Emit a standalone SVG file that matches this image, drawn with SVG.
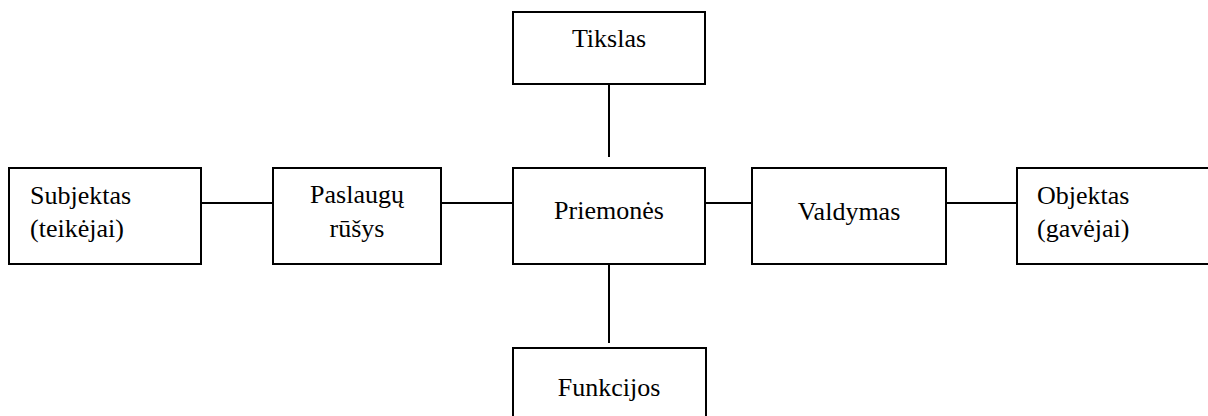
<svg xmlns="http://www.w3.org/2000/svg" width="1208" height="416" viewBox="0 0 1208 416">
<style>
.box{fill:#fff;stroke:#000;stroke-width:2}
.ln{stroke:#000;stroke-width:2;fill:none}
text{font-family:"Liberation Serif","Times New Roman",serif;font-size:26px;fill:#000}
.c{text-anchor:middle}
</style>
<rect width="1208" height="416" fill="#fff"/>
<g id="connectors">
<line class="ln" x1="201" y1="203" x2="273" y2="203"/>
<line class="ln" x1="441" y1="203" x2="513" y2="203"/>
<line class="ln" x1="705" y1="203" x2="752" y2="203"/>
<line class="ln" x1="946" y1="203" x2="1017" y2="203"/>
<line class="ln" x1="609" y1="84" x2="609" y2="157"/>
<line class="ln" x1="609" y1="264" x2="609" y2="343"/>
</g>
<g id="tikslas">
<rect class="box" x="513" y="12" width="192" height="72"/>
<text class="c" x="609" y="47">Tikslas</text>
</g>
<g id="subjektas">
<rect class="box" x="9" y="168" width="192" height="96"/>
<text x="30" y="204">Subjektas</text>
<text x="30" y="237">(teikėjai)</text>
</g>
<g id="paslaugu">
<rect class="box" x="273" y="168" width="168" height="96"/>
<text class="c" x="357" y="203">Paslaugų</text>
<text class="c" x="357" y="237">rūšys</text>
</g>
<g id="priemones">
<rect class="box" x="513" y="168" width="192" height="96"/>
<text class="c" x="609" y="219">Priemonės</text>
</g>
<g id="valdymas">
<rect class="box" x="752" y="168" width="194" height="96"/>
<text class="c" x="849" y="220">Valdymas</text>
</g>
<g id="objektas">
<rect class="box" x="1017" y="168" width="200" height="96"/>
<text x="1037" y="204">Objektas</text>
<text x="1037" y="237">(gavėjai)</text>
</g>
<g id="funkcijos">
<rect class="box" x="513" y="348" width="193" height="80"/>
<text class="c" x="609" y="396">Funkcijos</text>
</g>
</svg>
